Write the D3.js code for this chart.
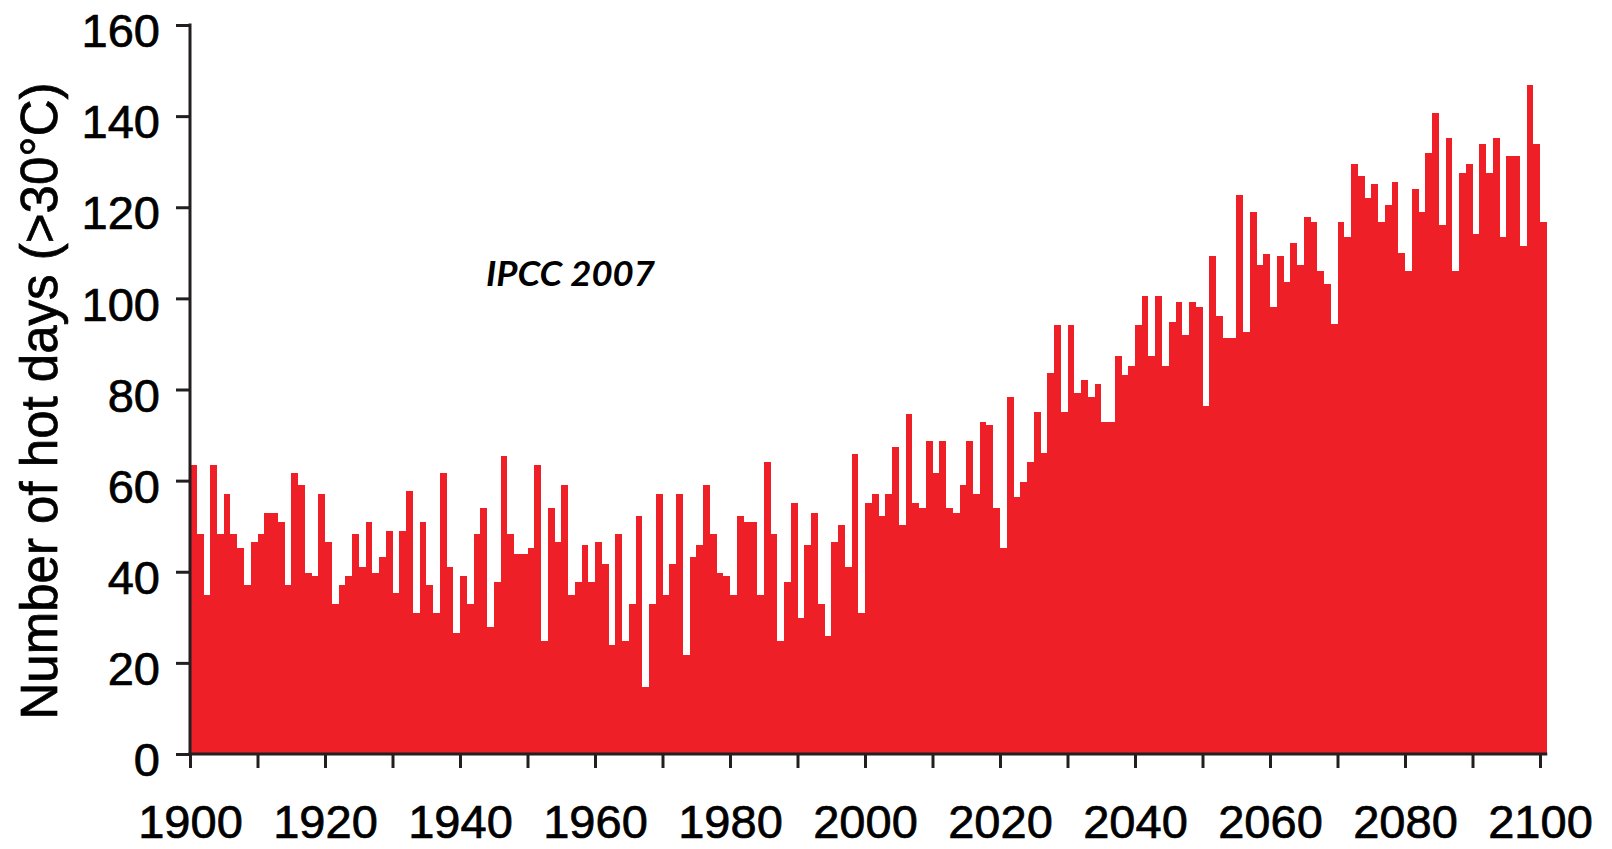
<!DOCTYPE html>
<html>
<head>
<meta charset="utf-8">
<script src="https://cdn.jsdelivr.net/npm/d3@7"></script>
<style>
  html, body { margin: 0; padding: 0; background: #ffffff; }
  svg { display: block; }
</style>
</head>
<body>
<svg id="chart" width="1612" height="849"></svg>
<script>
// Number of hot days (>30°C), one value per year, 1900–2100
const hotDays1900 = [63.4, 48.2, 34.8, 63.4, 48.2, 57.1, 48.2, 45.3, 37.0, 46.5, 48.2, 52.9, 52.9, 50.9, 37.0, 61.6, 59.0, 39.7, 39.1, 57.1, 46.5, 32.9, 37.0, 39.1, 48.2];
const hotDays1925 = [41.0, 50.9, 39.7, 43.2, 48.9, 35.4, 48.9, 57.7, 30.9, 50.9, 37.0, 30.9, 61.6, 41.0, 26.6, 39.1, 32.9, 48.2, 54.1, 27.9, 37.7, 65.4, 48.2, 43.9, 43.9];
const hotDays1950 = [45.3, 63.4, 24.7, 54.1, 46.6, 59.0, 34.8, 37.7, 45.9, 37.7, 46.6, 41.6, 23.9, 48.2, 24.7, 32.9, 52.2, 14.8, 32.9, 57.1, 34.8, 41.6, 57.1, 21.7, 43.2];
const hotDays1975 = [45.9, 59.0, 48.2, 39.7, 39.1, 34.8, 52.2, 50.9, 50.9, 34.8, 64.0, 48.2, 24.7, 37.7, 55.1, 29.8, 45.9, 52.8, 32.9, 25.9, 46.6, 50.2, 41.0, 65.8, 30.9];
const hotDays2000 = [55.0, 57.1, 52.2, 57.1, 67.3, 50.2, 74.6, 55.0, 54.1, 68.8, 61.6, 68.8, 54.1, 52.8, 59.0, 68.8, 57.1, 72.8, 72.1, 54.1, 45.3, 78.4, 56.3, 59.6, 64.0];
const hotDays2025 = [75.1, 66.0, 83.7, 94.2, 75.1, 94.2, 79.2, 82.0, 78.4, 81.3, 72.8, 72.8, 87.3, 83.2, 85.1, 94.2, 100.5, 87.3, 100.5, 85.1, 94.8, 99.1, 92.0, 99.1, 98.0];
const hotDays2050 = [76.4, 109.2, 96.2, 91.2, 91.2, 122.7, 92.6, 119.0, 107.3, 109.8, 98.2, 109.2, 103.7, 112.1, 107.3, 117.9, 116.7, 105.9, 103.1, 94.3, 116.7, 113.5, 129.5, 126.9, 122.1];
const hotDays2075 = [125.0, 116.8, 120.4, 125.6, 110.0, 106.0, 124.0, 119.0, 131.8, 140.6, 116.1, 135.1, 106.0, 127.6, 129.5, 114.1, 133.8, 127.6, 135.1, 113.5, 131.2, 131.2, 111.6, 146.8, 133.8, 116.7];

const firstYear = 1900;
const lastYear = 2100;
const yTickValues = [0, 20, 40, 60, 80, 100, 120, 140, 160];
const xTickValues = [1900, 1910, 1920, 1930, 1940, 1950, 1960, 1970, 1980, 1990, 2000, 2010, 2020, 2030, 2040, 2050, 2060, 2070, 2080, 2090, 2100];
const xTickLabels = [1900, 1920, 1940, 1960, 1980, 2000, 2020, 2040, 2060, 2080, 2100];
const yAxisTitle = "Number of hot days (>30°C)";
const annotation = "IPCC 2007";

const values = [].concat(hotDays1900, hotDays1925, hotDays1950, hotDays1975,
                         hotDays2000, hotDays2025, hotDays2050, hotDays2075);
const years = d3.range(firstYear, lastYear + 1);
const data = years.map((yr, i) => ({ year: yr, value: values[i] }));

const svg = d3.select("#chart");
const axisColor = "#231f20";
const barColor = "#ee1f27";

const x = d3.scaleLinear().domain([1900, 2100]).range([190, 1540]);
const y = d3.scaleLinear().domain([0, 160]).range([754, 25]);

// bars
svg.append("g")
  .attr("shape-rendering", "crispEdges")
  .selectAll("rect")
  .data(data)
  .join("rect")
  .attr("x", d => Math.round(x(d.year)))
  .attr("width", d => Math.round(x(d.year + 1)) - Math.round(x(d.year)))
  .attr("y", d => Math.round(y(d.value)))
  .attr("height", d => Math.round(y(0)) - Math.round(y(d.value)))
  .attr("fill", barColor);

const fontFam = "'Liberation Sans', Arial, Helvetica, sans-serif";

// y axis
const yAxis = svg.append("g")
  .attr("transform", `translate(${x(1900)},0)`)
  .call(d3.axisLeft(y).tickValues(yTickValues).tickSize(14).tickSizeOuter(0).tickPadding(16));
yAxis.select(".domain").attr("stroke", axisColor).attr("stroke-width", 3)
  .attr("d", `M0,${y(160) - 1.5}V${y(0) + 1.5}`);
yAxis.selectAll(".tick line").attr("stroke", axisColor).attr("stroke-width", 3);
yAxis.selectAll(".tick text")
  .attr("fill", "#000")
  .attr("stroke", "#000")
  .attr("stroke-width", 0.7)
  .style("font-family", fontFam)
  .style("font-size", "47px")
  .attr("dy", "0.46em");

// x axis
const xAxis = svg.append("g")
  .attr("transform", `translate(0,${y(0)})`)
  .call(d3.axisBottom(x).tickValues(xTickValues).tickSize(14).tickSizeOuter(0)
        .tickFormat(d => xTickLabels.includes(d) ? String(d) : ""));
xAxis.select(".domain").attr("stroke", axisColor).attr("stroke-width", 3)
  .attr("d", `M${x(1900) - 1.5},0H${x(2101) + 0.5}`);
xAxis.selectAll(".tick line").attr("stroke", axisColor).attr("stroke-width", 3);
xAxis.selectAll(".tick text")
  .attr("fill", "#000")
  .attr("stroke", "#000")
  .attr("stroke-width", 0.7)
  .style("font-family", fontFam)
  .style("font-size", "47px")
  .attr("y", 84)
  .attr("dy", "0");

// y axis title
svg.append("text")
  .attr("transform", "translate(57,401) rotate(-90)")
  .attr("text-anchor", "middle")
  .style("font-family", fontFam)
  .style("font-size", "51px")
  .attr("fill", "#000")
  .attr("stroke", "#000")
  .attr("stroke-width", 0.7)
  .text(yAxisTitle);

// annotation
svg.append("text")
  .attr("x", 486)
  .attr("y", 286)
  .style("font-family", "Lato, 'Open Sans', sans-serif")
  .style("font-weight", "bold")
  .style("font-style", "italic")
  .style("font-size", "35px")
  .attr("textLength", 169)
  .attr("lengthAdjust", "spacingAndGlyphs")
  .attr("fill", "#000")
  .text(annotation);
</script>
</body>
</html>
